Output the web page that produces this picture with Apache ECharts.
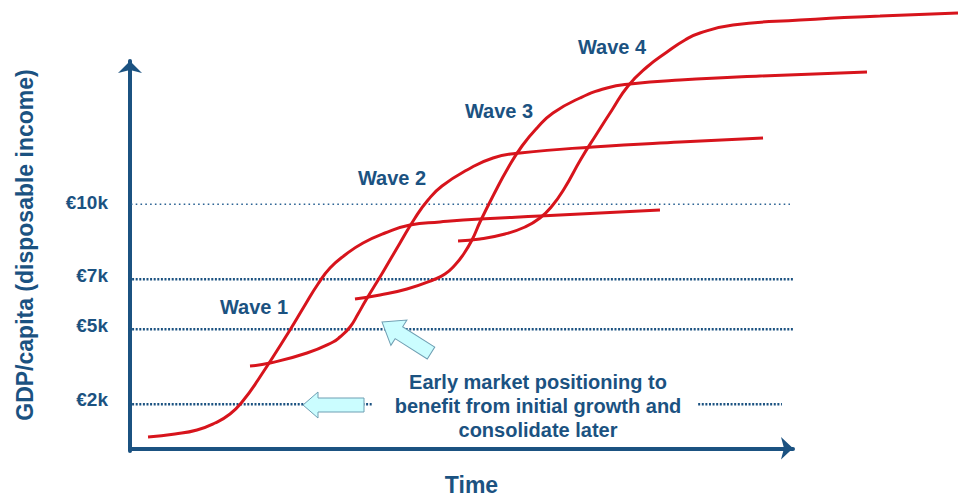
<!DOCTYPE html>
<html>
<head>
<meta charset="utf-8">
<script src="https://cdn.jsdelivr.net/npm/echarts@6/dist/echarts.min.js"></script>
<style>html,body{margin:0;padding:0;background:#fff}#c{width:959px;height:501px}</style>
</head>
<body>
<div id="c"></div>
<script>
// ---- data (time in arbitrary units, income in € thousands) ----
const waveNames = ['Wave 1', 'Wave 2', 'Wave 3', 'Wave 4'];
const wave1T = [2.69, 6.72, 10.0, 12.69, 14.93, 16.72, 19.1, 23.88, 26.12, 28.06, 29.85, 32.09, 34.78, 38.06, 41.79, 46.27, 52.24, 61.19, 70.15, 79.1];
const wave1V = [0.69, 0.81, 0.97, 1.25, 1.61, 2.09, 2.97, 4.97, 5.97, 6.81, 7.45, 7.97, 8.45, 8.85, 9.17, 9.29, 9.41, 9.53, 9.65, 9.77];
const wave2T = [17.91, 20.9, 26.42, 30.3, 31.34, 32.84, 34.03, 35.22, 37.76, 40.3, 42.54, 44.48, 46.57, 50.3, 54.18, 58.21, 69.1, 82.09, 94.48];
const wave2V = [3.53, 3.65, 4.05, 4.49, 4.69, 5.09, 5.61, 6.17, 7.29, 8.45, 9.45, 10.17, 10.73, 11.37, 11.85, 12.05, 12.29, 12.49, 12.65];
const wave3T = [33.58, 37.31, 41.34, 45.22, 47.01, 48.51, 49.7, 51.04, 52.24, 54.33, 56.42, 58.51, 60.75, 63.13, 67.16, 71.19, 74.63, 82.09, 94.03, 110.0];
const wave3V = [6.21, 6.37, 6.61, 6.97, 7.21, 7.57, 7.97, 8.57, 9.29, 10.41, 11.45, 12.33, 13.05, 13.65, 14.25, 14.65, 14.81, 14.97, 15.13, 15.29];
const wave4T = [48.96, 52.24, 55.97, 58.96, 61.19, 62.99, 64.78, 67.31, 69.55, 71.94, 74.33, 77.16, 80.15, 82.84, 85.07, 90.0, 100.0, 111.94, 123.58];
const wave4V = [8.53, 8.61, 8.81, 9.09, 9.45, 9.93, 10.61, 11.81, 12.77, 13.77, 14.73, 15.49, 16.09, 16.57, 16.85, 17.17, 17.37, 17.53, 17.65];
const tickValues = [2, 5, 7, 10];
const tickLabels = ['€2k', '€5k', '€7k', '€10k'];
const yTitle = 'GDP/capita (disposable income)';
const xTitle = 'Time';
const noteText = 'Early market positioning to\nbenefit from initial growth and\nconsolidate later';

// ---- styling ----
const BLUE = '#1b5281';
const RED = '#d7141c';
const FONT = '"Liberation Sans", Arial, sans-serif';
const Y_MIN = -0.11;
const Y_MAX = 15.73;

const waves = [[wave1T, wave1V], [wave2T, wave2V], [wave3T, wave3V], [wave4T, wave4V]];
const series = [];

// reference (dotted) lines: extents in time units
const refExtents = {
  10: [[-1.3, 98.5]],
  7: [[-1.3, 98.96]],
  5: [[-1.3, 98.96]],
  2: [[-1.3, 36.3], [84.8, 97.3]]
};
tickValues.forEach(v => {
  refExtents[v].forEach(seg => {
    series.push({
      type: 'line', silent: true, clip: false, symbol: 'none', z: 1,
      xAxisIndex: 1, yAxisIndex: 1,
      data: [[seg[0], v], [seg[1], v]],
      lineStyle: v === 10
        ? { color: '#2c6394', width: 1.6, type: [1.6, 3.2] }
        : { color: BLUE, width: 2.6, type: [2, 1.6] }
    });
  });
});

waves.forEach((w, i) => {
  series.push({
    name: waveNames[i], type: 'line', clip: false, symbol: 'none', smooth: 0.5, z: 3,
    xAxisIndex: 1, yAxisIndex: 1,
    data: w[0].map((t, j) => [t, w[1][j]]),
    lineStyle: { color: RED, width: 3 }
  });
});

function arrow(tipX, tipY, len, headLen, headHalf, shaftHalf, rot) {
  return {
    type: 'polygon', x: tipX, y: tipY, rotation: rot, z: 100,
    shape: { points: [[0, 0], [headLen, -headHalf], [headLen, -shaftHalf], [len, -shaftHalf], [len, shaftHalf], [headLen, shaftHalf], [headLen, headHalf]] },
    style: { fill: '#cbfdff', stroke: '#6f9fb3', lineWidth: 1 }
  };
}

const waveLabelPos = [[254, 307], [392, 178], [499, 111], [612, 47]];
const graphics = waveNames.map((n, i) => ({
  type: 'text', x: waveLabelPos[i][0], y: waveLabelPos[i][1], z: 100,
  style: { text: n, fill: BLUE, font: 'bold 20px ' + FONT, textAlign: 'center', textVerticalAlign: 'middle' }
}));
graphics.push(arrow(303, 405, 61, 15, 13, 7, 0));
graphics.push(arrow(382, 322, 58, 20, 15, 7, -0.564));
graphics.push({
  type: 'text', x: 538, y: 406, z: 100,
  style: { text: noteText, fill: BLUE, font: 'bold 20px ' + FONT, textAlign: 'center', textVerticalAlign: 'middle', lineHeight: 24 }
});

const chart = echarts.init(document.getElementById('c'), null, { renderer: 'svg' });
chart.setOption({
  animation: false,
  backgroundColor: '#fff',
  grid: [
    { left: 130, right: 166, top: 61, bottom: 44 },
    { left: 130, right: 0, top: 61, bottom: 44 }
  ],
  xAxis: [{
    gridIndex: 0, type: 'value', min: 0, max: 98.96,
    name: xTitle, nameLocation: 'middle', nameGap: 22,
    nameTextStyle: { color: BLUE, fontSize: 23, fontWeight: 'bold', fontFamily: FONT, padding: [0, 0, 0, 20] },
    axisLine: { show: true, lineStyle: { color: BLUE, width: 4 }, symbol: ['none', 'arrow'], symbolSize: [17, 12] },
    axisTick: { show: false }, axisLabel: { show: false }, splitLine: { show: false }
  }, {
    gridIndex: 1, type: 'value', min: 0, max: 123.73, show: false
  }],
  yAxis: [{
    gridIndex: 0, type: 'value', min: Y_MIN, max: Y_MAX,
    name: yTitle, nameLocation: 'middle', nameGap: 94, nameRotate: 90,
    nameTextStyle: { color: BLUE, fontSize: 23, fontWeight: 'bold', fontFamily: FONT, padding: [0, 0, 0, 22] },
    axisLine: { show: true, onZero: false, lineStyle: { color: BLUE, width: 4 }, symbol: ['none', 'arrow'], symbolSize: [18, 12] },
    axisTick: { show: false }, splitLine: { show: false },
    axisLabel: {
      customValues: tickValues,
      margin: 22, color: BLUE, fontSize: 19, fontWeight: 'bold', fontFamily: FONT,
      formatter: v => { const k = tickValues.indexOf(v); return k >= 0 ? tickLabels[k] : ''; }
    }
  }, {
    gridIndex: 1, type: 'value', min: Y_MIN, max: Y_MAX, show: false
  }],
  series: series,
  graphic: graphics
});
</script>
</body>
</html>
